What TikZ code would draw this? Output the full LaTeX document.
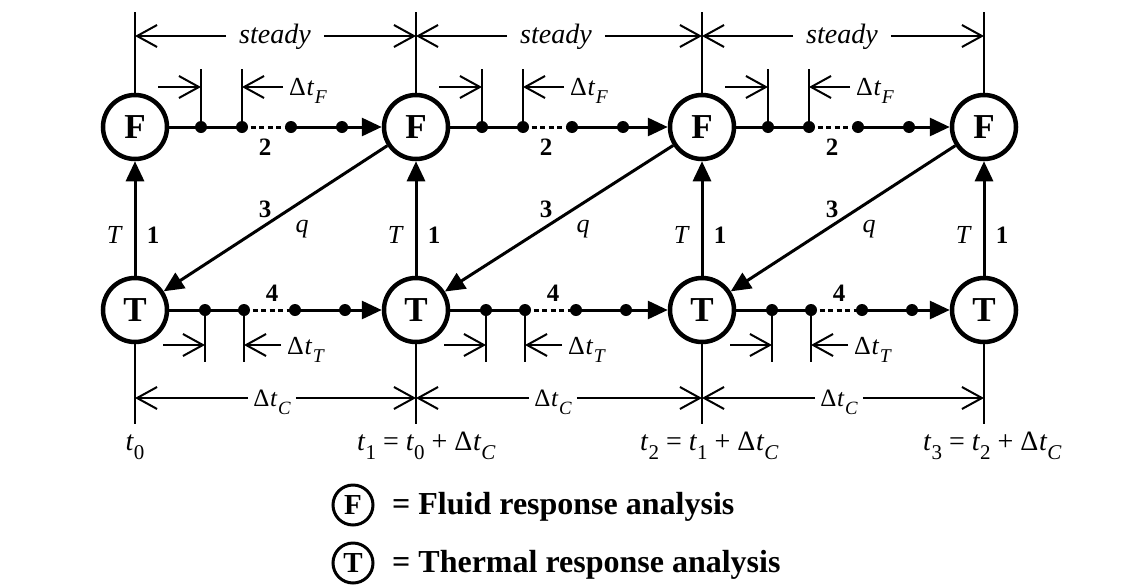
\documentclass[tikz,border=0pt]{standalone}
\usepackage{fontspec}
\setmainfont{Liberation Serif}
\usepackage{graphicx}
\usetikzlibrary{arrows.meta}
\newcommand{\lowsub}[1]{\raisebox{-0.34em}{\scalebox{0.75}{#1}}}
\newcommand{\dtlab}[1]{Δ\kern0.03em\textit{t}\kern0.02em\lowsub{\textit{#1}}}
\begin{document}
\begin{tikzpicture}[x=1pt,y=-1pt,
  circ/.style={circle,draw,line width=4.5pt,minimum size=64pt,inner sep=0pt,font=\fontsize{35}{40}\selectfont\bfseries},
  legcirc/.style={circle,draw,line width=3pt,minimum size=40pt,inner sep=0pt,font=\fontsize{29}{32}\selectfont\bfseries},
  main/.style={line width=3pt},
  tipped/.style={main,-{Triangle[length=20pt,width=18pt]}},
  guide/.style={line width=2.5pt},
  dimarr/.style={line width=2pt,-{Straight Barb[length=20pt,width=22pt]}},
  lab/.style={inner sep=0pt,font=\fontsize{26}{30}\selectfont\itshape},
  blab/.style={inner sep=0pt,font=\fontsize{25}{30}\selectfont\bfseries},
  dlab/.style={inner ysep=0pt,inner xsep=6pt,font=\fontsize{26}{30}\selectfont},
  clab/.style={inner ysep=0pt,inner xsep=5pt,font=\fontsize{25}{30}\selectfont},
  steadylab/.style={inner ysep=0pt,inner xsep=13pt,font=\fontsize{28}{32}\selectfont\itshape},
  tlab/.style={inner sep=0pt,font=\fontsize{28}{32}\selectfont},
  legtext/.style={inner sep=0pt,font=\fontsize{32}{36}\selectfont\bfseries}
]
\useasboundingbox (0,0) rectangle (1143,584);
\fill[white] (0,0) rectangle (1143,584);

% columns
\foreach \i/\x in {0/135,1/416,2/702,3/984}{
  \node[circ] (F\i) at (\x,127) {F};
  \node[circ] (T\i) at (\x,310) {T};
  \coordinate (top\i) at (\x,12);
  \coordinate (bot\i) at (\x,424);
  \coordinate (dt\i) at (\x,36);
  \coordinate (db\i) at (\x,398);
  \draw[guide] (top\i) -- (F\i);
  \draw[guide] (T\i) -- (bot\i);
  \draw[tipped] (T\i) -- (F\i);
  \node[lab] (TL\i) at (\x-21,235) {T};
  \node[blab] (one\i) at (\x+18,235) {1};
}

% intervals
\foreach \i/\j/\x in {0/1/135,1/2/416,2/3/702}{
  % top "steady" dimension
  \node[steadylab,anchor=base] (st\i) at (\x+140,43) {steady};
  \draw[dimarr] (st\i.west |- dt\i) -- (dt\i);
  \draw[dimarr] (st\i.east |- dt\i) -- (dt\j);
  % fluid row
  \coordinate (fa\i) at (\x+66,127);
  \coordinate (fb\i) at (\x+107,127);
  \coordinate (fc\i) at (\x+156,127);
  \coordinate (fd\i) at (\x+207,127);
  \coordinate (fat\i) at (\x+66,69);
  \coordinate (fbt\i) at (\x+107,69);
  \coordinate (fal\i) at (\x+23,87);
  \draw[main] (F\i) -- (fb\i);
  \draw[main,dash pattern=on 5pt off 3.5pt] (fb\i) -- (fc\i);
  \draw[tipped] (fc\i) -- (F\j);
  \draw[guide] (fa\i) -- (fat\i);
  \draw[guide] (fb\i) -- (fbt\i);
  \foreach \p in {fa,fb,fc,fd} \fill (\p\i) circle (6pt);
  \draw[dimarr] (fal\i) -- (fa\i |- fal\i);
  \node[dlab,anchor=base west] (dtF\i) at (\x+148,95) {\dtlab{F}};
  \draw[dimarr] (dtF\i.west |- fal\i) -- (fb\i |- fal\i);
  \node[blab] (two\i) at (\x+130,147) {2};
  % thermal row
  \coordinate (ta\i) at (\x+70,310);
  \coordinate (tb\i) at (\x+109,310);
  \coordinate (tc\i) at (\x+160,310);
  \coordinate (td\i) at (\x+210,310);
  \coordinate (tat\i) at (\x+70,362);
  \coordinate (tbt\i) at (\x+109,362);
  \coordinate (tal\i) at (\x+28,345);
  \draw[main] (T\i) -- (tb\i);
  \draw[main,dash pattern=on 5pt off 3.5pt] (tb\i) -- (tc\i);
  \draw[tipped] (tc\i) -- (T\j);
  \draw[guide] (ta\i) -- (tat\i);
  \draw[guide] (tb\i) -- (tbt\i);
  \foreach \p in {ta,tb,tc,td} \fill (\p\i) circle (6pt);
  \draw[dimarr] (tal\i) -- (ta\i |- tal\i);
  \node[dlab,anchor=base west] (dtT\i) at (\x+146,354) {\dtlab{T}};
  \draw[dimarr] (dtT\i.west |- tal\i) -- (tb\i |- tal\i);
  \node[blab] (four\i) at (\x+137,293) {4};
  % coupling
  \draw[tipped] (F\j) -- (T\i);
  \node[blab] (three\i) at (\x+130,209) {3};
  \node[lab] (q\i) at (\x+167,229) {q};
  % bottom dimension
  \node[clab,anchor=base] (dC\i) at (\x+137,406) {\dtlab{C}};
  \draw[dimarr] (dC\i.west |- db\i) -- (db\i);
  \draw[dimarr] (dC\i.east |- db\i) -- (db\j);
}

% time labels
\node[tlab,anchor=base] (t0) at (135,450) {\textit{t}\lowsub{0}};
\node[tlab,anchor=base west] (t1) at (357,450) {\textit{t}\lowsub{1} = \textit{t}\lowsub{0} + Δ\kern0.02em\textit{t}\lowsub{\textit{C}}};
\node[tlab,anchor=base west] (t2) at (640,450) {\textit{t}\lowsub{2} = \textit{t}\lowsub{1} + Δ\kern0.02em\textit{t}\lowsub{\textit{C}}};
\node[tlab,anchor=base west] (t3) at (923,450) {\textit{t}\lowsub{3} = \textit{t}\lowsub{2} + Δ\kern0.02em\textit{t}\lowsub{\textit{C}}};

% legend
\node[legcirc] (LF) at (353,505) {F};
\node[legtext,anchor=base west] (LFt) at (392,514) {= Fluid response analysis};
\node[legcirc] (LT) at (353,563) {T};
\node[legtext,anchor=base west] (LTt) at (392,572) {= Thermal response analysis};
\end{tikzpicture}
\end{document}
